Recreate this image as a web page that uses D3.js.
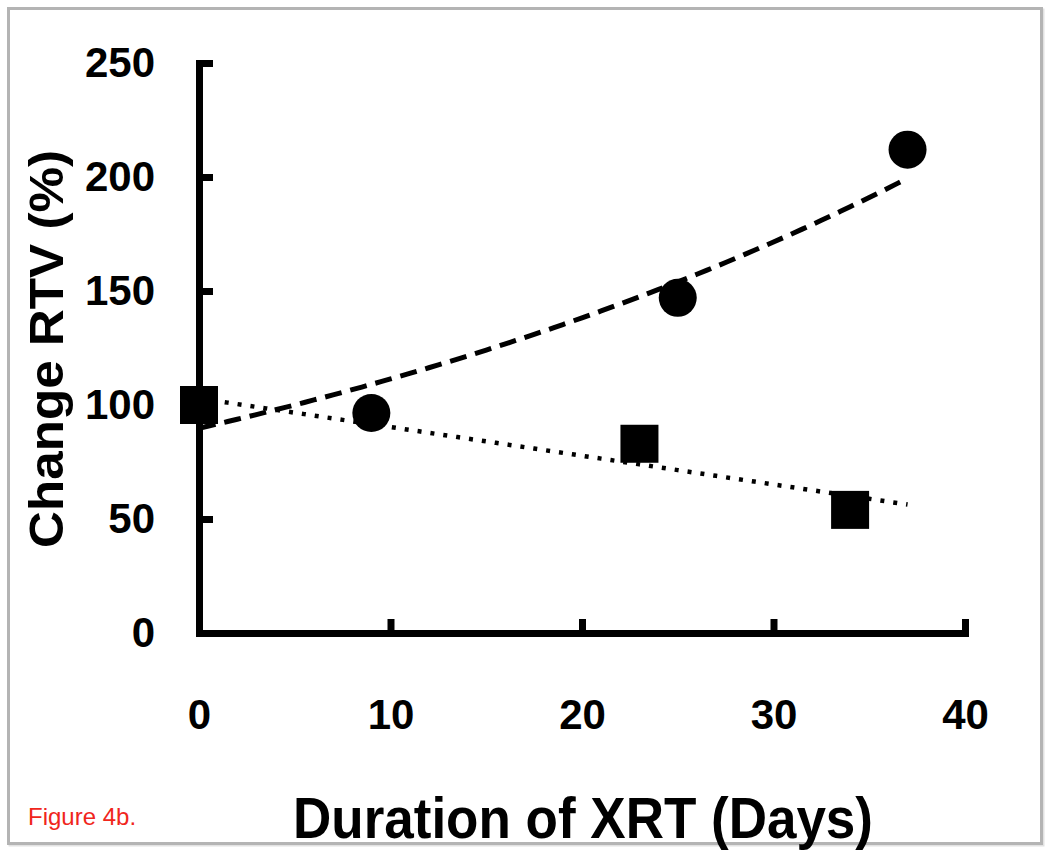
<!DOCTYPE html>
<html>
<head>
<meta charset="utf-8">
<script src="https://cdn.jsdelivr.net/npm/d3@7"></script>
<style>
  body { margin: 0; background: #fff; }
  text { font-family: Arial, "Liberation Sans", sans-serif; }
</style>
</head>
<body>
<div id="mainDiv"></div>
<script>
'use strict';

// data
var circleDays = [0, 9, 25, 37];
var circleRTV  = [100, 96.5, 147, 212];
var squareDays = [0, 23, 34];
var squareRTV  = [100, 83, 54];

var xTicks = [0, 10, 20, 30, 40];
var yTicks = [0, 50, 100, 150, 200, 250];
var trendRange = [0, 37];   // trendlines drawn over this span of days

var xLabel = 'Duration of XRT (Days)';
var yLabel = 'Change RTV (%)';
var caption = 'Figure 4b.';

var fig = {};

fig.w = 1050;
fig.h = 851;

fig.appendSvg = function(div)
{
    var svg = d3.select(div).append('svg')
        .attr('width', fig.w)
        .attr('height', fig.h);

    // grey frame round the figure
    svg.append('rect')
        .attr('x', 10).attr('y', 10)
        .attr('width', 1033).attr('height', 835)
        .attr('fill', 'none')
        .attr('stroke', '#e2e2e2')
        .attr('stroke-width', 3);
    svg.append('rect')
        .attr('x', 8.5).attr('y', 8.5)
        .attr('width', 1033).attr('height', 835)
        .attr('fill', '#fff')
        .attr('stroke', '#b4b4b4')
        .attr('stroke-width', 3);

    return svg;
}

fig.createScales = function()
{
    fig.x = d3.scaleLinear().domain([0, 40]).range([199, 965]);
    fig.y = d3.scaleLinear().domain([0, 250]).range([633, 63]);
}

fig.createAxis = function(svg)
{
    var xAxis = d3.axisBottom(fig.x)
        .tickValues(xTicks)
        .tickSizeInner(-14)
        .tickSizeOuter(0)
        .tickPadding(66);

    var yAxis = d3.axisLeft(fig.y)
        .tickValues(yTicks)
        .tickSizeInner(-14)
        .tickSizeOuter(0)
        .tickPadding(44);

    var gx = svg.append('g')
        .attr('class', 'xAxis')
        .attr('transform', 'translate(0,' + fig.y(0) + ')')
        .call(xAxis);

    var gy = svg.append('g')
        .attr('class', 'yAxis')
        .attr('transform', 'translate(' + fig.x(0) + ',0)')
        .call(yAxis);

    [gx, gy].forEach(function(g) {
        g.select('.domain')
            .attr('stroke', '#000')
            .attr('stroke-width', 7)
            .attr('stroke-linecap', 'square');
        g.selectAll('.tick line')
            .attr('stroke', '#000')
            .attr('stroke-width', 7);
        g.selectAll('.tick text')
            .attr('fill', '#000')
            .style('font-size', '42px')
            .style('font-weight', 'bold')
            .style('font-family', 'Arial, "Liberation Sans", sans-serif');
    });
}

// least squares fits, as the spreadsheet trendlines
fig.linearFit = function(xs, ys)
{
    var mx = d3.mean(xs), my = d3.mean(ys);
    var sxy = d3.sum(xs, function(v, i) { return (v - mx) * (ys[i] - my); });
    var sxx = d3.sum(xs, function(v) { return (v - mx) * (v - mx); });
    var b = sxy / sxx;
    var a = my - b * mx;
    return function(t) { return a + b * t; };
}

fig.expFit = function(xs, ys)
{
    var lin = fig.linearFit(xs, ys.map(Math.log));
    return function(t) { return Math.exp(lin(t)); };
}

fig.appendTrend = function(svg, f, dash, width)
{
    var days = d3.range(trendRange[0], trendRange[1] + 0.001, 0.5);

    svg.append('path')
        .datum(days)
        .attr('fill', 'none')
        .attr('stroke', '#000')
        .attr('stroke-width', width)
        .attr('stroke-dasharray', dash)
        .attr('d', d3.line()
            .x(function(d) { return fig.x(d); })
            .y(function(d) { return fig.y(f(d)); }));
}

fig.appendPoints = function(svg)
{
    var circles = circleDays.map(function(d, i) { return {x: d, y: circleRTV[i]}; });
    var squares = squareDays.map(function(d, i) { return {x: d, y: squareRTV[i]}; });
    var side = 38;

    svg.selectAll('circle.pt')
        .data(circles)
        .enter()
        .append('circle')
        .attr('class', 'pt')
        .attr('cx', function(d) { return fig.x(d.x); })
        .attr('cy', function(d) { return fig.y(d.y); })
        .attr('r', 19)
        .attr('fill', '#000');

    svg.selectAll('rect.pt')
        .data(squares)
        .enter()
        .append('rect')
        .attr('class', 'pt')
        .attr('x', function(d) { return fig.x(d.x) - side / 2; })
        .attr('y', function(d) { return fig.y(d.y) - side / 2; })
        .attr('width', side)
        .attr('height', side)
        .attr('fill', '#000');
}

fig.addLabels = function(svg)
{
    svg.append('text')
        .attr('x', 583)
        .attr('y', 838)
        .attr('text-anchor', 'middle')
        .attr('textLength', 580)
        .attr('lengthAdjust', 'spacingAndGlyphs')
        .style('font-size', '58px')
        .style('font-weight', 'bold')
        .text(xLabel);

    svg.append('text')
        .attr('transform', 'translate(63,349) rotate(-90)')
        .attr('text-anchor', 'middle')
        .attr('textLength', 398)
        .attr('lengthAdjust', 'spacingAndGlyphs')
        .style('font-size', '48px')
        .style('font-weight', 'bold')
        .text(yLabel);

    svg.append('text')
        .attr('x', 28)
        .attr('y', 825)
        .attr('fill', '#f0261c')
        .style('font-size', '24px')
        .text(caption);
}

fig.run = function()
{
    var svg = fig.appendSvg('#mainDiv');
    fig.createScales();

    fig.appendTrend(svg, fig.expFit(circleDays, circleRTV), '17,9', 5);
    fig.appendTrend(svg, fig.linearFit(squareDays, squareRTV), '4,9', 4.5);

    fig.createAxis(svg);
    fig.appendPoints(svg);
    fig.addLabels(svg);
}

fig.run();
</script>
</body>
</html>
